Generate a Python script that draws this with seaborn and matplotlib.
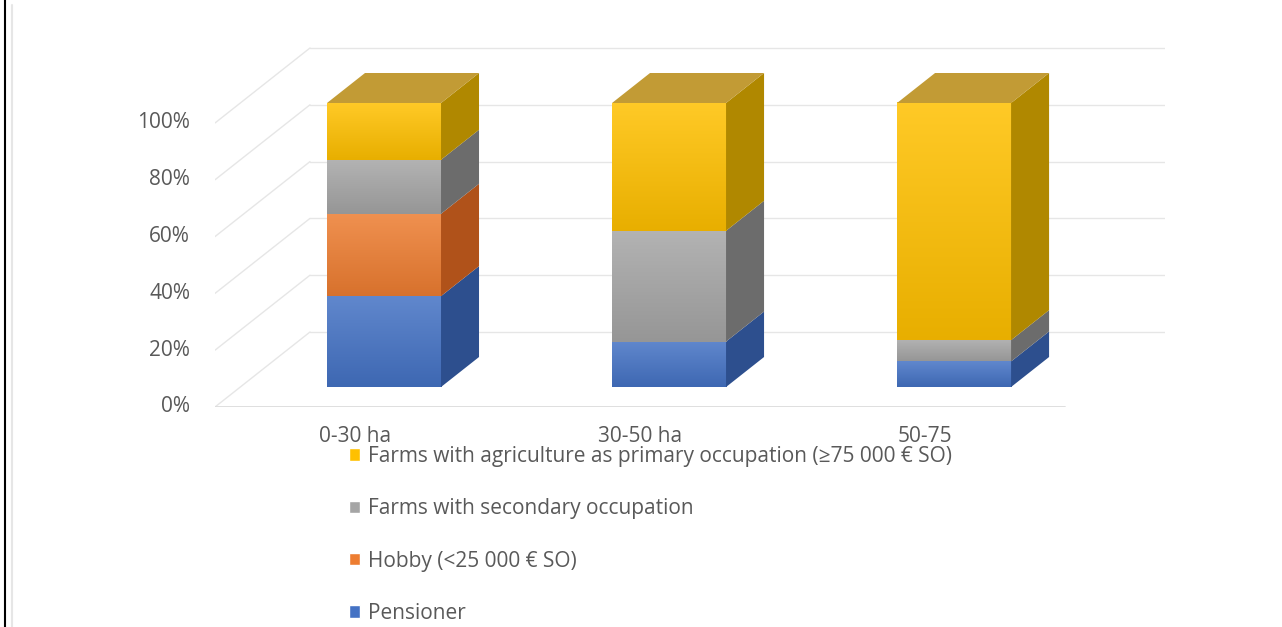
import numpy as np
import pandas as pd
import matplotlib.pyplot as plt
import seaborn as sns
from matplotlib.patches import Polygon, Patch
from matplotlib.lines import Line2D
from matplotlib.transforms import offset_copy
from matplotlib.colors import to_rgb

# data (percent of farms per size class)
categories = ["0-30 ha", "30-50 ha", "50-75"]
pensioner = [32, 16, 9]
hobby = [29, 0, 0]
secondary = [19, 39, 7.5]
primary = [20, 45, 83.5]
series_names = ["Pensioner", "Hobby (<25 000 € SO)", "Farms with secondary occupation",
                "Farms with agriculture as primary occupation (≥75 000 € SO)"]
yticks = [0, 20, 40, 60, 80, 100]

front = ["#4472c4", "#ed7d31", "#a5a5a5", "#ffc000"]
side = ["#2d4f8e", "#b0521a", "#6c6c6c", "#b08800"]
top_color = "#c29b35"
txt_c = "#595959"
fs = 15

sns.set_style("white")
plt.rcParams["font.family"] = ["Open Sans", "DejaVu Sans"]

fig = plt.figure(figsize=(12.82, 6.27), dpi=100)
ax = fig.add_axes([215 / 1282, 220 / 627, 950 / 1282, 377 / 627])

layers = [pensioner, hobby, secondary, primary]
cum = np.cumsum(layers, axis=0)

# stacked bars: draw cumulative totals from the top layer down
for k in range(3, -1, -1):
    sns.barplot(x=categories, y=cum[k], color=front[k], width=0.4, saturation=1,
                linewidth=0, ax=ax, zorder=3)

# fake 3D look: gradient front, darker side, top lid
half = 0.2
dx, dy = 0.1333, 10.56
for i in range(len(categories)):
    bottom = 0
    x0, x1 = i - half, i + half
    for k in range(4):
        h = layers[k][i]
        if h <= 0:
            continue
        y0, y1 = bottom, bottom + h
        c = np.array(to_rgb(front[k]))
        grad = np.linspace(c * 0.91, c + (1 - c) * 0.15, 64)[:, None, :]
        ax.imshow(grad, extent=(x0, x1, y0, y1), origin="lower", aspect="auto",
                  interpolation="bilinear", zorder=4)
        ax.add_patch(Polygon([(x1, y0), (x1 + dx, y0 + dy), (x1 + dx, y1 + dy), (x1, y1)],
                             closed=True, facecolor=side[k], lw=0, zorder=4))
        bottom = y1
    ax.add_patch(Polygon([(x0, bottom), (x0 + dx, bottom + dy), (x1 + dx, bottom + dy), (x1, bottom)],
                         closed=True, facecolor=top_color, lw=0, zorder=4))

# walls and floor
xl, xr = -0.593, 2.740
floor_r = 2.389
sh = 7.04
wdx, wdy = 0.3333, 26.41
grid_c = "#e6e6e6"
for t in yticks:
    ax.plot([xl, xl + wdx], [t - sh, t - sh + wdy], color=grid_c, lw=1, zorder=1)
    ax.plot([xl + wdx, xr], [t - sh + wdy, t - sh + wdy], color=grid_c, lw=1, zorder=1)
ax.plot([xl, floor_r], [-sh, -sh], color="#dcdcdc", lw=1.3, zorder=2)

ylab_tr = offset_copy(ax.transData, fig=fig, x=-25, y=0, units="dots")
for t in yticks:
    ax.text(xl, t - sh, f"{t}%", transform=ylab_tr, ha="right", va="center",
            fontsize=fs, color=txt_c)

xlab_tr = offset_copy(ax.transData, fig=fig, x=-29, y=-30, units="dots")
for i, c in enumerate(categories):
    ax.text(i, -sh, c, transform=xlab_tr, ha="center", va="center",
            fontsize=fs, color=txt_c)

ax.set_xlim(xl, xr)
ax.set_ylim(-sh, 125.7)
ax.set_axis_off()

handles = [Patch(facecolor=front[k], label=series_names[k]) for k in [3, 2, 1, 0]]
fig.legend(handles=handles, loc="upper left", bbox_to_anchor=(349 / 1282, (627 - 446) / 627),
           frameon=False, fontsize=fs, labelcolor=txt_c, handlelength=0.55,
           handleheight=0.55, handletextpad=0.35, labelspacing=1.5, borderpad=0,
           borderaxespad=0)

# page frame
fig.add_artist(Line2D([4.5 / 1282, 4.5 / 1282], [0, 1], color="black", lw=1.5))
fig.add_artist(Line2D([12 / 1282, 12 / 1282], [0, 622 / 627], color="#e6e6e6", lw=1.5))

fig.savefig("out.png", dpi=100)
